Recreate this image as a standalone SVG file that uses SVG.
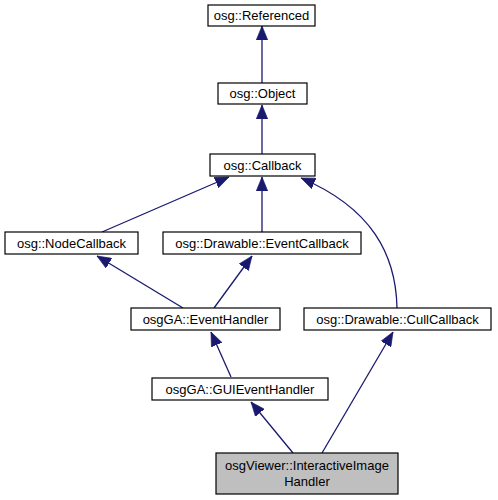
<svg xmlns="http://www.w3.org/2000/svg" width="498" height="500" viewBox="0 0 498 500">
<style>
.n rect{fill:#fff;stroke:#000;stroke-width:1.2}
.n text{font-family:"Liberation Sans",Arial,sans-serif;font-size:13px;text-anchor:middle;fill:#000}
#n_iih rect{fill:#bfbfbf}
.e path{fill:none;stroke:#191970;stroke-width:1.3;marker-end:url(#ah)}
</style>
<defs>
<marker id="ah" markerUnits="userSpaceOnUse" markerWidth="14" markerHeight="12" viewBox="0 0 11 9" refX="11" refY="4.5" orient="auto">
<path d="M0,0 L11,4.5 L0,9 Z" fill="#191970" stroke="#191970" stroke-width="0.5"/>
</marker>
</defs>
<g id="edges" class="e">
<path d="M262,83 L262,26"/>
<path d="M262,154 L262,105"/>
<path d="M102,232 L229,177"/>
<path d="M262,232 L262,177"/>
<path d="M397,308 C396,255 372,208 301,178"/>
<path d="M183,308 L97,256"/>
<path d="M214,308 L252,256"/>
<path d="M231,377 L211,332"/>
<path d="M293,453 L251,402"/>
<path d="M322,453 L393,332"/>
</g>
<g id="n_referenced" class="n"><rect x="208" y="5" width="107" height="21"/><text x="261.5" y="20">osg::Referenced</text></g>
<g id="n_object" class="n"><rect x="218" y="83" width="89" height="21"/><text x="262.5" y="98">osg::Object</text></g>
<g id="n_callback" class="n"><rect x="210" y="154" width="105" height="22"/><text x="262.5" y="169.5">osg::Callback</text></g>
<g id="n_nodecallback" class="n"><rect x="5" y="232" width="133" height="22"/><text x="71.5" y="247.5">osg::NodeCallback</text></g>
<g id="n_eventcallback" class="n"><rect x="163" y="232" width="198" height="22"/><text x="262" y="247.5">osg::Drawable::EventCallback</text></g>
<g id="n_eventhandler" class="n"><rect x="131" y="308" width="149" height="22"/><text x="205.5" y="323.5">osgGA::EventHandler</text></g>
<g id="n_cullcallback" class="n"><rect x="304" y="308" width="187" height="22"/><text x="397.5" y="323.5">osg::Drawable::CullCallback</text></g>
<g id="n_guieventhandler" class="n"><rect x="152" y="378" width="176" height="22"/><text x="240" y="393.5">osgGA::GUIEventHandler</text></g>
<g id="n_iih" class="n"><rect x="216" y="453" width="182" height="41"/><text x="307" y="470">osgViewer::InteractiveImage</text><text x="307" y="486">Handler</text></g>
</svg>
